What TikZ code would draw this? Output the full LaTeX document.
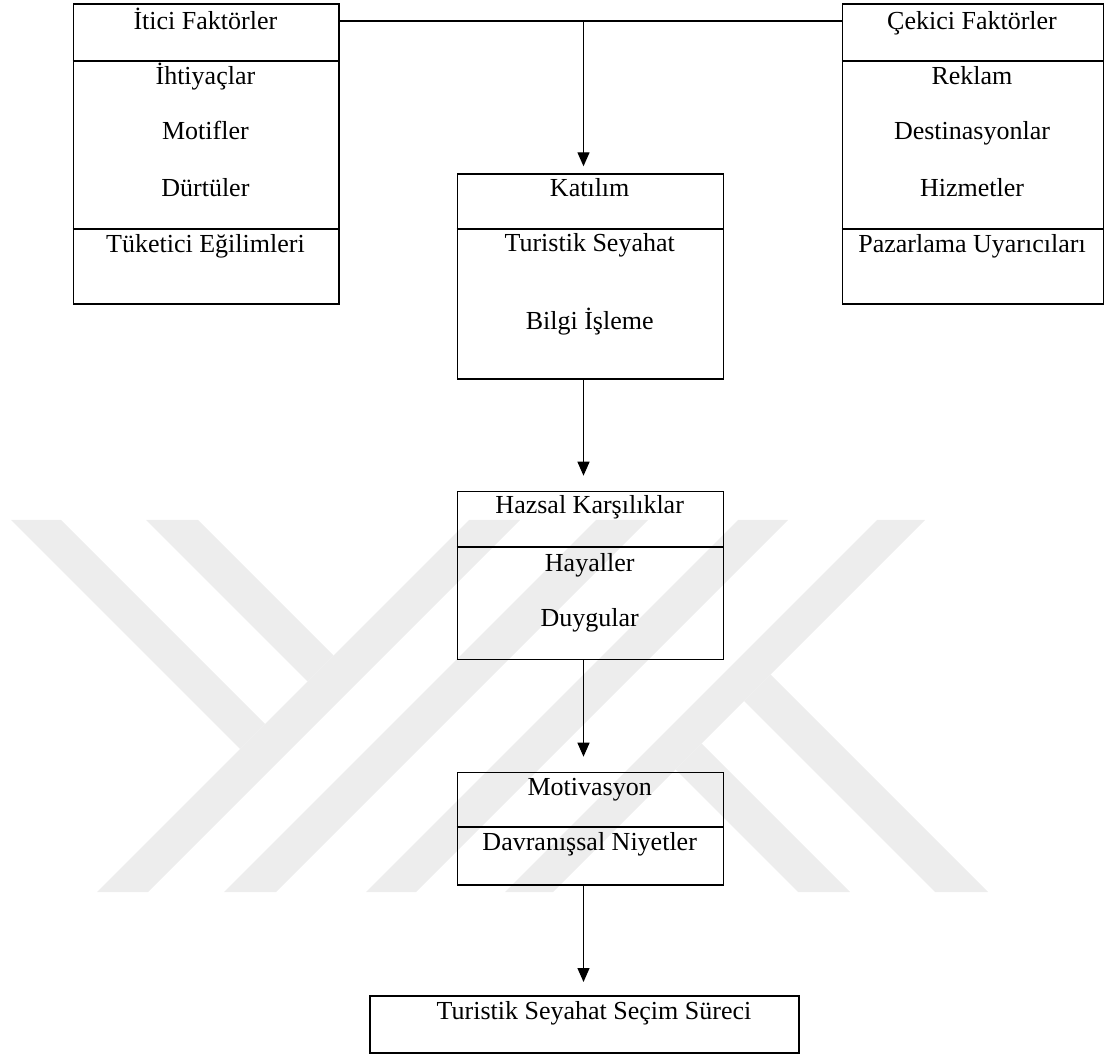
\documentclass[tikz,border=0pt]{standalone}
\usepackage{fontspec}
\setmainfont{Liberation Serif}
\usetikzlibrary{arrows.meta}
\definecolor{wmark}{HTML}{EDEDED}
\tikzset{
  box/.style={draw, line width=1.7pt, inner sep=0pt, anchor=north west},
  lbl/.style={font=\fontsize{26}{30}\selectfont, inner sep=0pt, anchor=base},
  divider/.style={line width=1.7pt},
  link/.style={line width=1.3pt},
  arr/.style={link, -{Triangle[length=14pt,width=12pt]}},
  wm/.style={fill=wmark, draw=none},
}
\begin{document}
\begin{tikzpicture}[x=1pt, y=-1pt]
\useasboundingbox (0,0) rectangle (1104,1056);

% background emblem: slanted stripes forming a stylised Y and K
% Y: two arms hanging from the long stripe C
\fill[wm] (11,520) -- (61,520) -- (265,724) -- (240,749) -- cycle;        % A
\fill[wm] (146,520) -- (198,520) -- (333.5,655.5) -- (307.5,681.5) -- cycle; % B
\fill[wm] (469,520) -- (520,520) -- (148,892) -- (97,892) -- cycle;       % C
\fill[wm] (596,520) -- (648,520) -- (276,892) -- (224,892) -- cycle;      % D
% K: long stripes E, F and two legs hanging from F
\fill[wm] (738,520) -- (788,520) -- (416,892) -- (366,892) -- cycle;      % E
\fill[wm] (877,520) -- (925,520) -- (553,892) -- (505,892) -- cycle;      % F
\fill[wm] (770.5,674.5) -- (988,892) -- (935,892) -- (744,701) -- cycle;  % G1
\fill[wm] (701.5,743.5) -- (850,892) -- (798,892) -- (675.5,769.5) -- cycle; % G2

% boxes
\node[box, minimum width=265.3pt, minimum height=300pt] (push) at (72.7,3.3) {};
\node[box, minimum width=260.8pt, minimum height=300pt] (pull) at (841.7,3.3) {};
\node[box, minimum width=266pt, minimum height=205pt] (inv) at (456.7,173.3) {};
\node[box, minimum width=266pt, minimum height=168pt] (hed) at (456.7,490.7) {};
\node[box, minimum width=266pt, minimum height=112.3pt] (mot) at (456.7,771.7) {};
\node[box, minimum width=429pt, minimum height=57pt] (choice) at (369,995) {};

% dividers
\draw[divider] (push.west |- 0,61) -- (push.east |- 0,61);
\draw[divider] (push.west |- 0,229) -- (push.east |- 0,229);
\draw[divider] (pull.west |- 0,61) -- (pull.east |- 0,61);
\draw[divider] (pull.west |- 0,229) -- (pull.east |- 0,229);
\draw[divider] (inv.west |- 0,229.3) -- (inv.east |- 0,229.3);
\draw[divider] (hed.west |- 0,546.7) -- (hed.east |- 0,546.7);
\draw[divider] (mot.west |- 0,826.7) -- (mot.east |- 0,826.7);

% labels
\node[lbl] (p0) at (205.4,29.3) {İtici Faktörler};
\node[lbl] (p1) at (205.4,85) {İhtiyaçlar};
\node[lbl] (p2) at (205.4,140) {Motifler};
\node[lbl] (p3) at (205.4,196.7) {Dürtüler};
\node[lbl] (p4) at (205.4,252.7) {Tüketici Eğilimleri};

\node[lbl] (q0) at (972,29.3) {Çekici Faktörler};
\node[lbl] (q1) at (972,85) {Reklam};
\node[lbl] (q2) at (972,140) {Destinasyonlar};
\node[lbl] (q3) at (972,196.7) {Hizmetler};
\node[lbl] (q4) at (972,252.7) {Pazarlama Uyarıcıları};

\node[lbl] (i0) at (589.7,196.7) {Katılım};
\node[lbl] (i1) at (589.7,251.7) {Turistik Seyahat};
\node[lbl] (i2) at (589.7,330) {Bilgi İşleme};

\node[lbl] (h0) at (589.7,514) {Hazsal Karşılıklar};
\node[lbl] (h1) at (589.7,571.7) {Hayaller};
\node[lbl] (h2) at (589.7,626.7) {Duygular};

\node[lbl] (m0) at (589.7,795) {Motivasyon};
\node[lbl] (m1) at (589.7,850.7) {Davranışsal Niyetler};

\node[lbl] (c0) at (594,1019.3) {Turistik Seyahat Seçim Süreci};

% connectors
\coordinate (join) at (583.5,21);
\draw[link] (push.east |- join) -- (pull.west |- join);
\draw[arr, shorten >=7pt] (join) -- (join |- inv.north);
\draw[arr, shorten >=15pt] (inv.south -| join) -- (join |- hed.north);
\draw[arr, shorten >=15pt] (hed.south -| join) -- (join |- mot.north);
\draw[arr, shorten >=13pt] (mot.south -| join) -- (join |- choice.north);
\end{tikzpicture}
\end{document}
